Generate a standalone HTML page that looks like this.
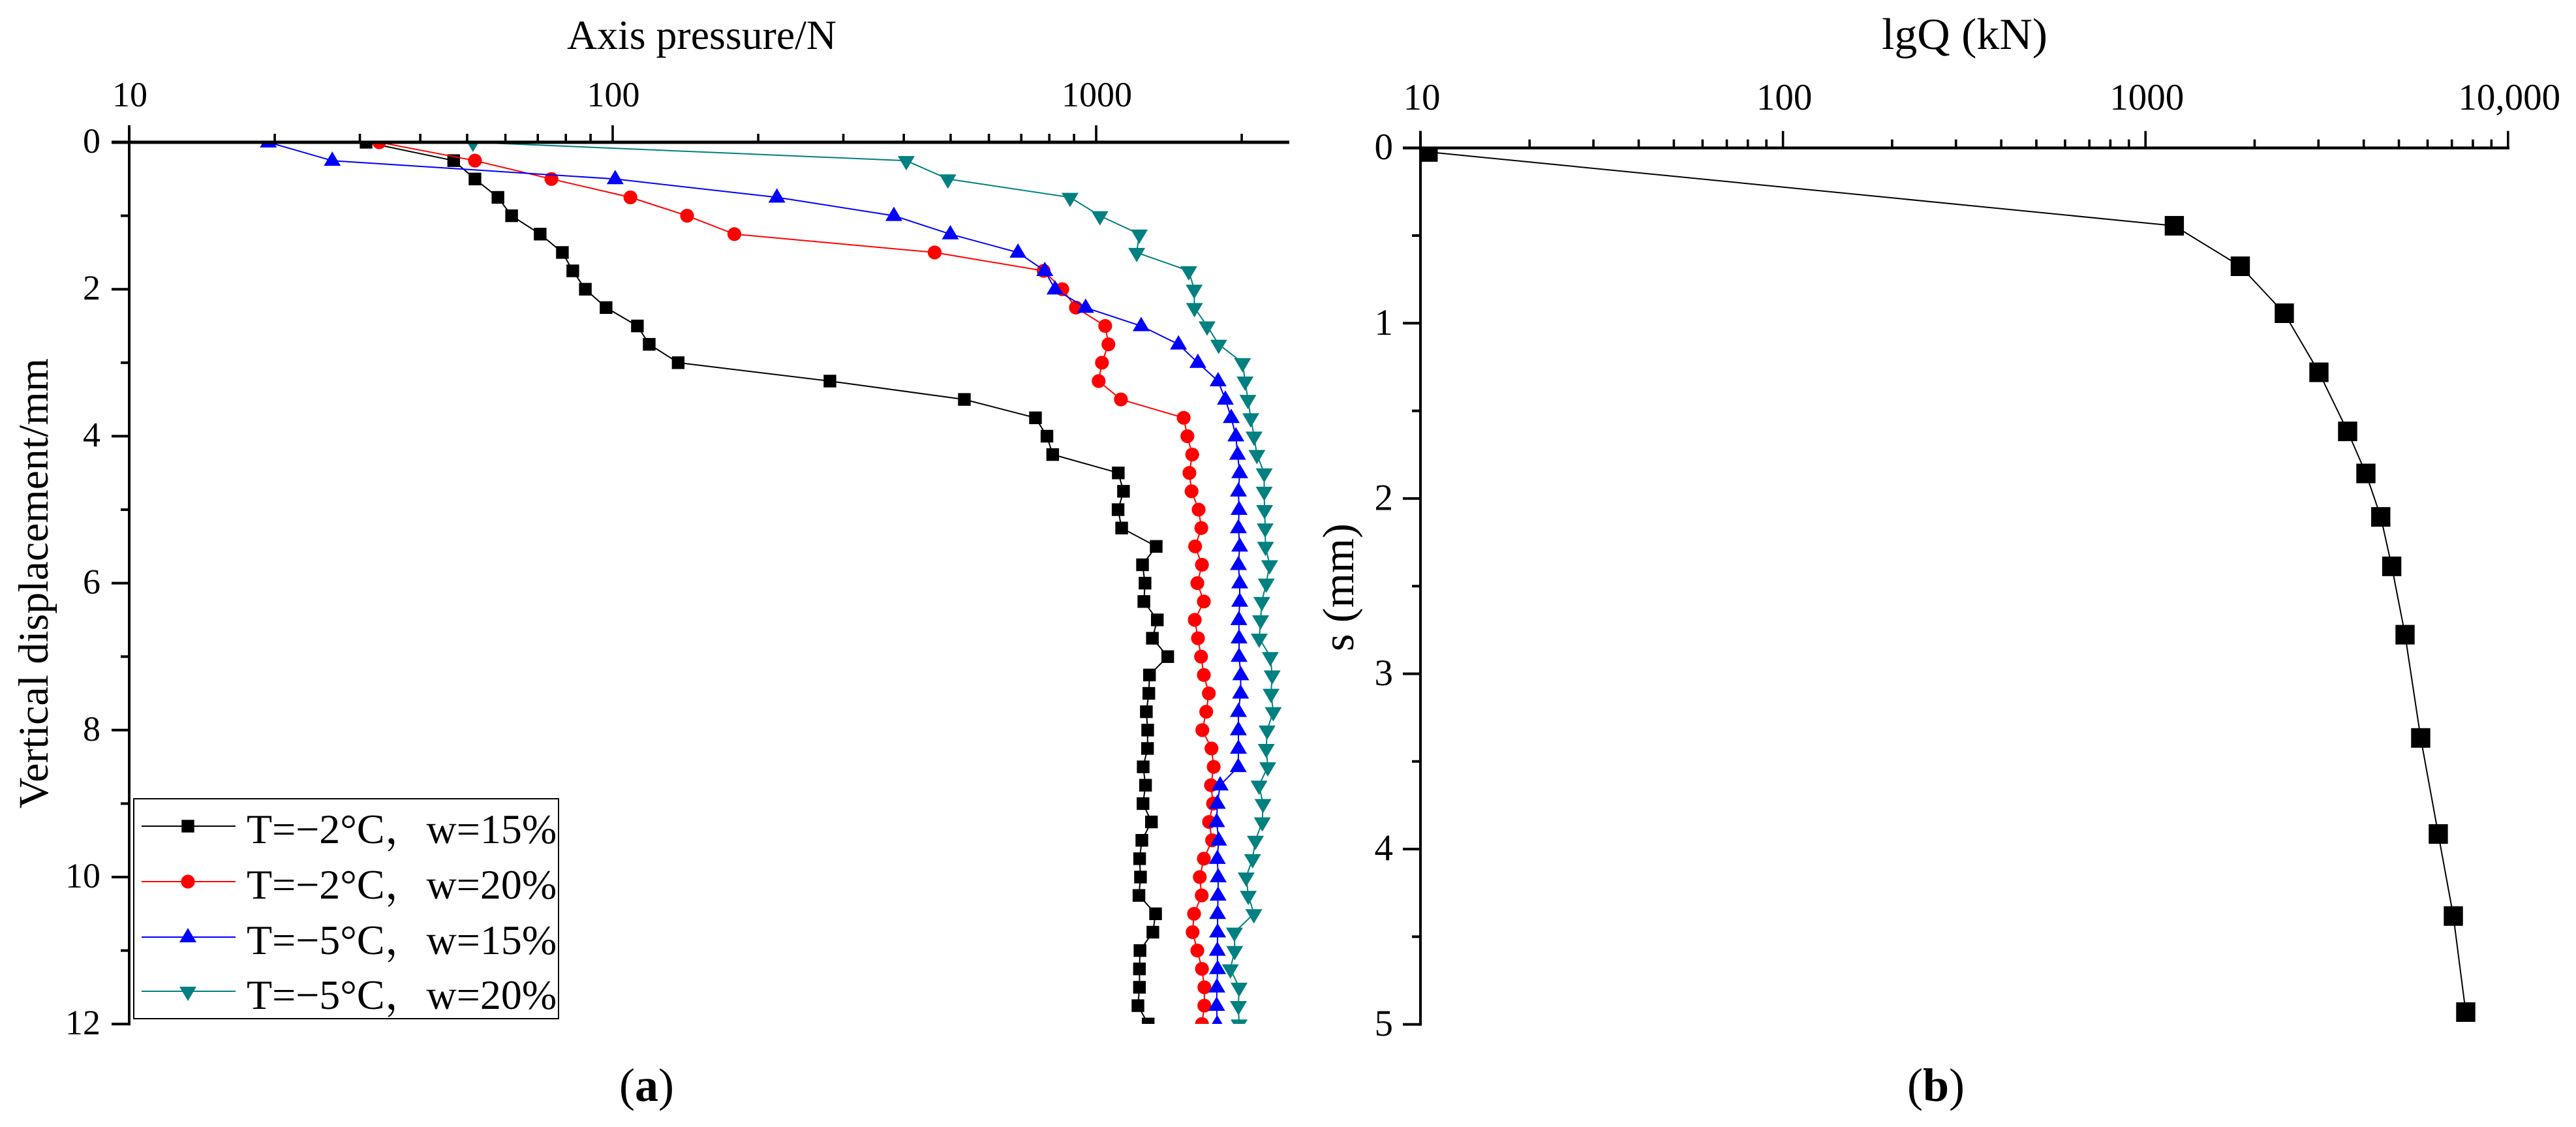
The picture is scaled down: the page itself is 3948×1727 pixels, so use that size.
<!DOCTYPE html>
<html lang="en">
<head>
<meta charset="utf-8">
<title>Axis pressure and lgQ settlement charts</title>
<style>
html,body{margin:0;padding:0;background:#fff;}
svg{display:block;}
text{font-family:"Liberation Serif","Noto Serif CJK SC",serif;fill:#000;}
</style>
</head>
<body>
<svg id="figure" xmlns="http://www.w3.org/2000/svg" width="3948" height="1727" viewBox="0 0 3948 1727">
  <rect x="0" y="0" width="3948" height="1727" fill="#ffffff"/>
  <defs>
    <clipPath id="clip-a"><rect x="198" y="218" width="1778" height="1351"/></clipPath>
    <clipPath id="clip-b"><rect x="2177" y="226.7" width="1667" height="1343.3"/></clipPath>
  </defs>
  <g id="chart-a"></g>
  <g id="chart-b"></g>
  <text x="869" y="75" font-size="64" textLength="413" lengthAdjust="spacingAndGlyphs">Axis pressure/N</text>
  <text transform="translate(73,1239) rotate(-90)" font-size="65" textLength="690" lengthAdjust="spacingAndGlyphs">Vertical displacement/mm</text>
  <text x="2884" y="75" font-size="68" textLength="254" lengthAdjust="spacingAndGlyphs">lgQ (kN)</text>
  <text transform="translate(2074,998) rotate(-90)" font-size="68" textLength="196" lengthAdjust="spacingAndGlyphs">s (mm)</text>
  <text x="949" y="1687" font-size="72">(<tspan font-weight="bold">a</tspan>)</text>
  <text x="2923" y="1687" font-size="72">(<tspan font-weight="bold">b</tspan>)</text>
  <g id="legend">
    <rect x="205" y="1224" width="651" height="337" fill="#fff" stroke="#000" stroke-width="2"/>
  </g>
</svg>
<script>
// ---- Chart (a) data ----
const displacementA = [0,0.25,0.5,0.75,1,1.25,1.5,1.75,2,2.25,2.5,2.75,3,3.25,3.5,3.75,4,4.25,4.5,4.75,5,5.25,5.5,5.75,6,6.25,6.5,6.75,7,7.25,7.5,7.75,8,8.25,8.5,8.75,9,9.25,9.5,9.75,10,10.25,10.5,10.75,11,11.25,11.5,11.75,12];
const pressureM2W15 = [30.9,46.9,51.9,57.9,61.8,70.8,78.7,82.7,87.8,96.9,112.5,119,136.6,281.4,533.8,749,791,813,1111,1139,1110,1129,1331,1247,1262,1255,1338,1307,1406,1289,1285,1270,1278,1277,1251,1265,1250,1301,1243,1230,1235,1226,1327,1310,1232,1229,1229,1220,1281];
const pressureM2W20 = [32.9,51.9,74.7,108.8,142.5,178.5,463.4,778.7,851,908,1044,1060,1028,1012,1125,1517,1544,1580,1559,1575,1629,1650,1602,1655,1619,1670,1599,1624,1648,1670,1710,1689,1658,1732,1750,1728,1745,1712,1737,1670,1638,1653,1594,1583,1619,1655,1674,1674,1655];
const pressureM5W15 = [19.4,26.3,101.2,218.6,381.6,499.3,689,783,822,951,1239,1480,1623,1787,1850,1903,1945,1961,1981,1969,1975,1969,1981,1969,1981,1981,1973,1975,1975,1991,1989,1969,1969,1969,1967,1805,1781,1775,1792,1781,1788,1787,1783,1783,1781,1783,1777,1775,1779];
const pressureM5W20 = [51.4,404.8,493.5,883,1018,1228,1213,1554,1595,1597,1696,1792,2008,2032,2060,2088,2121,2150,2226,2226,2230,2236,2240,2284,2248,2201,2188,2174,2292,2312,2300,2324,2257,2248,2264,2172,2213,2206,2135,2106,2043,2064,2119,1932,1934,1895,1975,1969,1975];
const xMajorTicksA = [10,100,1000];
const xMinorTicksA = [20,30,40,50,60,70,80,90,200,300,400,500,600,700,800,900,2000];
const xTickLabelsA = ['10','100','1000'];
const yMajorTicksA = [0,2,4,6,8,10,12];
const yMinorTicksA = [1,3,5,7,9,11];
const yTickLabelsA = ['0','2','4','6','8','10','12'];

// ---- Chart (b) data ----
const loadB = [10.5,1201,1826,2415,3009,3611,4055,4456,4778,5200,5743,6422,7067,7645];
const settlementB = [0.023,0.444,0.675,0.943,1.28,1.617,1.857,2.105,2.387,2.777,3.366,3.914,4.382,4.93];
const xMajorTicksB = [10,100,1000,10000];
const xMinorTicksB = [20,30,40,50,60,70,80,90,200,300,400,500,600,700,800,900,2000,3000,4000,5000,6000,7000,8000,9000];
const xTickLabelsB = ['10','100','1000','10,000'];
const yMajorTicksB = [0,1,2,3,4,5];
const yMinorTicksB = [0.5,1.5,2.5,3.5,4.5];
const yTickLabelsB = ['0','1','2','3','4','5'];

// ---- Legend data ----
const legendLabels = ['T=\u22122\u00b0C\uff0cw=15%','T=\u22122\u00b0C\uff0cw=20%','T=\u22125\u00b0C\uff0cw=15%','T=\u22125\u00b0C\uff0cw=20%'];

const NS = 'http://www.w3.org/2000/svg';
function make(parent, tag, attrs) {
  const el = document.createElementNS(NS, tag);
  for (const k in attrs) el.setAttribute(k, attrs[k]);
  parent.appendChild(el);
  return el;
}

// axis functions
const xScaleA = v => 198 + (Math.log10(v) - 1) * 741;
const yScaleA = v => 218 + v * 112.6;
const xScaleB = v => 2177 + (Math.log10(v) - 1) * 555.6;
const yScaleB = v => 226.7 + v * 268.6;

function drawMarker(parent, shape, x, y, color, name) {
  let el;
  if (shape === 'square') {
    el = make(parent, 'rect', {x: x - 9.7, y: y - 9.7, width: 19.4, height: 19.4, fill: color});
  } else if (shape === 'bigsquare') {
    el = make(parent, 'rect', {x: x - 14.7, y: y - 15, width: 29.4, height: 30, fill: color});
  } else if (shape === 'circle') {
    el = make(parent, 'circle', {cx: x, cy: y, r: 10.6, fill: color});
  } else if (shape === 'up') {
    el = make(parent, 'polygon', {points: (x - 13) + ',' + (y + 8) + ' ' + (x + 13) + ',' + (y + 8) + ' ' + x + ',' + (y - 14), fill: color});
  } else {
    el = make(parent, 'polygon', {points: (x - 13) + ',' + (y - 7) + ' ' + (x + 13) + ',' + (y - 7) + ' ' + x + ',' + (y + 15), fill: color});
  }
  
  
}

function drawSeries(parent, name, xs, ys, xScale, yScale, color, shape, clip, width) {
  const g = make(parent, 'g', {'clip-path': 'url(#' + clip + ')'});
  
  
  const pts = xs.map((v, i) => xScale(v).toFixed(1) + ',' + yScale(ys[i]).toFixed(1)).join(' ');
  const line = make(g, 'polyline', {points: pts, fill: 'none', stroke: color, 'stroke-width': width});
  
  
  xs.forEach((v, i) => {
    drawMarker(g, shape, xScale(v), yScale(ys[i]), color, name + '-point');
  });
}

function drawAxes(parent, o) {
  const g = make(parent, 'g', {});
  
  
  const x0 = o.xScale(o.xMajor[0]);
  const y0 = o.yScale(o.yMajor[0]);
  const yEnd = o.yScale(o.yMajor[o.yMajor.length - 1]);

  const xLine = make(g, 'line', {x1: x0 - 27, y1: y0, x2: o.xEnd, y2: y0, stroke: '#000', 'stroke-width': o.xAxisWidth});
  
  

  const yLine = make(g, 'line', {x1: x0, y1: y0 - 26, x2: x0, y2: yEnd + 2, stroke: '#000', 'stroke-width': 4});
  
  

  o.xMajor.forEach((v, i) => {
    const x = o.xScale(v);
    const t = make(g, 'line', {x1: x, y1: y0, x2: x, y2: y0 - 26, stroke: '#000', 'stroke-width': 3.6});
    
    
    const lab = make(g, 'text', {x: x + o.xLabelDx, y: o.xLabelY, 'font-size': o.fontSize, 'text-anchor': 'middle'});
    lab.textContent = o.xLabels[i];
    
    
  });
  o.xMinor.forEach(v => {
    const x = o.xScale(v);
    const t = make(g, 'line', {x1: x, y1: y0, x2: x, y2: y0 - 13, stroke: '#000', 'stroke-width': 3.6});
    
    
  });
  o.yMajor.forEach((v, i) => {
    const y = o.yScale(v);
    const t = make(g, 'line', {x1: x0, y1: y, x2: x0 - 27, y2: y, stroke: '#000', 'stroke-width': 4});
    
    
    const lab = make(g, 'text', {x: o.yLabelX, y: y + o.yLabelDy, 'font-size': o.fontSize, 'text-anchor': 'end'});
    lab.textContent = o.yLabels[i];
    
    
  });
  o.yMinor.forEach(v => {
    const y = o.yScale(v);
    const t = make(g, 'line', {x1: x0, y1: y, x2: x0 - 13, y2: y, stroke: '#000', 'stroke-width': 4});
    
    
  });
}

const chartA = document.getElementById('chart-a');
drawSeries(chartA, 'series-t-2-w15', pressureM2W15, displacementA, xScaleA, yScaleA, '#000000', 'square', 'clip-a', 2);
drawSeries(chartA, 'series-t-2-w20', pressureM2W20, displacementA, xScaleA, yScaleA, '#ff0000', 'circle', 'clip-a', 2);
drawSeries(chartA, 'series-t-5-w15', pressureM5W15, displacementA, xScaleA, yScaleA, '#0000ff', 'up', 'clip-a', 2);
drawSeries(chartA, 'series-t-5-w20', pressureM5W20, displacementA, xScaleA, yScaleA, '#008080', 'down', 'clip-a', 2);
drawAxes(chartA, {name: 'chart-a', xScale: xScaleA, yScale: yScaleA, xMajor: xMajorTicksA, xMinor: xMinorTicksA, xLabels: xTickLabelsA, yMajor: yMajorTicksA, yMinor: yMinorTicksA, yLabels: yTickLabelsA, xEnd: 1976, xAxisWidth: 5, xLabelY: 163, xLabelDx: 1, yLabelX: 154, yLabelDy: 16, fontSize: 54});

const chartB = document.getElementById('chart-b');
drawSeries(chartB, 'series-load-settlement', loadB, settlementB, xScaleB, yScaleB, '#000000', 'bigsquare', 'clip-b', 2);
drawAxes(chartB, {name: 'chart-b', xScale: xScaleB, yScale: yScaleB, xMajor: xMajorTicksB, xMinor: xMinorTicksB, xLabels: xTickLabelsB, yMajor: yMajorTicksB, yMinor: yMinorTicksB, yLabels: yTickLabelsB, xEnd: 3846, xAxisWidth: 4.4, xLabelY: 168, xLabelDx: 2, yLabelX: 2135, yLabelDy: 17.5, fontSize: 57});

// legend
const legend = document.getElementById('legend');
const legendColors = ['#000000', '#ff0000', '#0000ff', '#008080'];
const legendShapes = ['square', 'circle', 'up', 'down'];
const legendLineY = [1266, 1351, 1436, 1519];
const legendBaseY = [1292, 1377, 1462, 1546];
legendLabels.forEach((label, i) => {
  const g = make(legend, 'g', {});
  
  
  const l = make(g, 'line', {x1: 217, y1: legendLineY[i], x2: 361, y2: legendLineY[i], stroke: legendColors[i], 'stroke-width': 2});
  
  
  drawMarker(g, legendShapes[i], 288, legendLineY[i], legendColors[i], 'legend-marker');
  const t = make(g, 'text', {x: 378, y: legendBaseY[i], 'font-size': 64});
  t.textContent = label;
  
  
});
</script>
</body>
</html>
